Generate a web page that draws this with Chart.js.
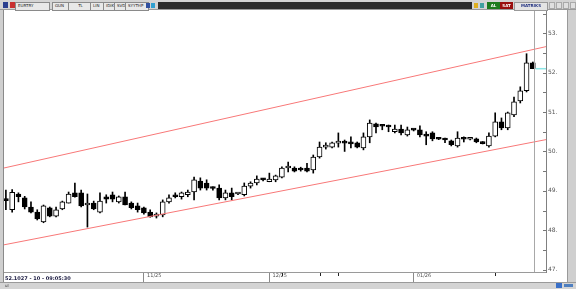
<!DOCTYPE html>
<html>
<head>
<meta charset="utf-8">
<script src="https://cdn.jsdelivr.net/npm/chart.js@4.4.1/dist/chart.umd.min.js"></script>
<style>
  html, body { margin: 0; padding: 0; width: 576px; height: 289px; overflow: hidden; background: #fff; font-family: "DejaVu Sans", sans-serif; }
  #wrap { position: relative; width: 576px; height: 289px; }
  #chart { position: absolute; left: 0; top: 0; }
  .abs { position: absolute; box-sizing: border-box; }
  .fld { position: absolute; top: 2px; height: 7px; border: 1px solid #8a8a8a; background: #e8e8e8; font-size: 4px; line-height: 5px; color: #222; padding-left: 2px; white-space: nowrap; overflow: hidden; }
  .btn { position: absolute; top: 2px; height: 7px; font-size: 4px; line-height: 7px; text-align: center; font-weight: bold; }
</style>
</head>
<body>
<div id="wrap">
  <canvas id="chart" width="576" height="289"></canvas>

  <!-- barra superior -->
  <div class="abs" style="left:0;top:0;width:576px;height:10px;background:#d4d4d4;border-bottom:1px solid #9a9a9a;"></div>
  <div class="abs" style="left:3px;top:2px;width:5px;height:6px;background:#2a3f8f;"></div>
  <div class="abs" style="left:10px;top:2px;width:5px;height:6px;background:#c83030;"></div>
  <div class="fld" style="left:15px;width:31px;">EURTRY</div>
  <div class="fld" style="left:52px;width:16px;">GUN</div>
  <div class="fld" style="left:68px;width:19px;text-align:center;">TL</div>
  <div class="fld" style="left:90px;width:13px;">LIN</div>
  <div class="fld" style="left:103px;width:11px;">IDIK</div>
  <div class="fld" style="left:114px;width:11px;">SVD</div>
  <div class="fld" style="left:125px;width:20px;">SYYTHP</div>
  <div class="abs" style="left:146px;top:3px;width:4px;height:5px;background:#3050a0;"></div>
  <div class="abs" style="left:151px;top:3px;width:4px;height:5px;background:#30a0d0;"></div>
  <div class="abs" style="left:158px;top:2px;width:314px;height:7px;background:#2c2c2c;"></div>
  <div class="abs" style="left:474px;top:3px;width:4px;height:5px;background:#e0b020;"></div>
  <div class="abs" style="left:480px;top:3px;width:4px;height:5px;background:#40a0a0;"></div>
  <div class="btn" style="left:487px;width:13px;background:#1c7a1c;color:#fff;">AL</div>
  <div class="btn" style="left:500px;width:13px;background:#9a1010;color:#fff;">SAT</div>
  <div class="btn" style="left:514px;width:32px;background:#e4e4e4;color:#203080;border:1px solid #999;line-height:5px;">MATRIKS</div>
  <div class="abs" style="left:549px;top:2px;width:6px;height:7px;background:#e0e0e0;border:1px solid #aaa;"></div>
  <div class="abs" style="left:556px;top:2px;width:6px;height:7px;background:#e0e0e0;border:1px solid #aaa;"></div>
  <div class="abs" style="left:563px;top:2px;width:6px;height:7px;background:#e0e0e0;border:1px solid #aaa;"></div>
  <div class="abs" style="left:570px;top:2px;width:6px;height:7px;background:#e0e0e0;border:1px solid #aaa;"></div>

  <!-- marcos -->
  <div class="abs" style="left:0;top:10px;width:4px;height:279px;background:#cfcfcf;border-right:1px solid #8a8a8a;"></div>
  <div class="abs" style="left:567px;top:10px;width:9px;height:279px;background:#cfcfcf;border-left:1px solid #9a9a9a;"></div>
  <div class="abs" style="left:0;top:282px;width:576px;height:7px;background:#d4d4d4;border-top:1px solid #9a9a9a;"></div>
  <div class="abs" style="left:5px;top:283px;font-size:4px;line-height:5px;color:#333;">ul</div>
  <div class="abs" style="left:556px;top:283px;width:6px;height:5px;background:#3a70c8;"></div>
  <div class="abs" style="left:564px;top:284px;width:9px;height:3px;background:#5080c0;"></div>

  <!-- estado -->
  <div class="abs" style="left:5px;top:275px;font-size:5px;line-height:6px;font-weight:bold;color:#1a1a40;">52.1027 - 10 - 09:05:30</div>
</div>

<script>
// velas diarias EURTRY (apertura, maximo, minimo, cierre)
const opens = [
  48.79, 48.52, 48.92, 48.82, 48.59, 48.46, 48.21, 48.57, 48.36, 48.54,
  48.69, 48.95, 48.95, 48.64, 48.69, 48.46, 48.85, 48.90, 48.72, 48.85,
  48.69, 48.62, 48.57, 48.46, 48.36, 48.39, 48.72, 48.90, 48.85, 48.90,
  48.97, 49.25, 49.20, 49.08, 49.07, 48.82, 48.95, 48.92, 48.90, 49.12,
  49.20, 49.30, 49.23, 49.28, 49.35, 49.58, 49.58, 49.58, 49.58, 49.53,
  49.86, 50.11, 50.11, 50.21, 50.22, 50.20, 50.22, 50.09, 50.37, 50.70,
  50.65, 50.63, 50.50, 50.57, 50.42, 50.55, 50.55, 50.40, 50.47, 50.32,
  50.30, 50.27, 50.14, 50.33, 50.31, 50.32, 50.24, 50.14, 50.39, 50.75,
  50.60, 50.93, 51.28, 51.54, 52.25
];
const highs = [
  49.02, 49.03, 48.95, 48.86, 48.72, 48.52, 48.64, 48.59, 48.59, 48.74,
  48.97, 49.20, 49.02, 48.92, 48.74, 48.95, 48.90, 48.97, 48.87, 48.97,
  48.72, 48.69, 48.59, 48.52, 48.44, 48.77, 48.90, 48.95, 48.97, 49.02,
  49.35, 49.33, 49.28, 49.10, 49.15, 49.02, 49.07, 48.95, 49.20, 49.23,
  49.38, 49.32, 49.45, 49.40, 49.61, 49.73, 49.61, 49.60, 49.70, 49.91,
  50.24, 50.22, 50.24, 50.47, 50.29, 50.37, 50.24, 50.47, 50.80, 50.72,
  50.67, 50.67, 50.67, 50.67, 50.62, 50.57, 50.65, 50.50, 50.50, 50.33,
  50.34, 50.29, 50.50, 50.37, 50.34, 50.34, 50.25, 50.47, 50.98, 50.85,
  51.00, 51.38, 51.64, 52.48, 52.27
];
const lows = [
  48.52, 48.46, 48.72, 48.54, 48.44, 48.26, 48.19, 48.34, 48.34, 48.52,
  48.69, 48.84, 48.59, 48.08, 48.52, 48.44, 48.69, 48.72, 48.69, 48.64,
  48.54, 48.46, 48.41, 48.33, 48.31, 48.34, 48.69, 48.82, 48.79, 48.85,
  48.77, 49.02, 49.02, 49.02, 48.77, 48.77, 48.77, 48.90, 48.87, 49.07,
  49.15, 49.25, 49.23, 49.23, 49.33, 49.48, 49.48, 49.50, 49.48, 49.45,
  49.83, 50.06, 50.09, 50.11, 50.00, 50.09, 50.09, 50.04, 50.22, 50.47,
  50.55, 50.50, 50.47, 50.42, 50.39, 50.52, 50.37, 50.17, 50.27, 50.30,
  50.22, 50.14, 50.11, 50.24, 50.29, 50.22, 50.19, 50.11, 50.37, 50.55,
  50.55, 50.88, 51.23, 51.51, 52.10
];
const closes = [
  48.75, 48.96, 48.85, 48.59, 48.46, 48.29, 48.62, 48.36, 48.52, 48.72,
  48.92, 48.85, 48.62, 48.69, 48.54, 48.74, 48.79, 48.79, 48.85, 48.64,
  48.57, 48.52, 48.44, 48.34, 48.41, 48.72, 48.82, 48.85, 48.95, 48.97,
  49.28, 49.07, 49.07, 49.06, 48.82, 48.95, 48.85, 48.93, 49.12, 49.20,
  49.30, 49.28, 49.30, 49.38, 49.58, 49.59, 49.50, 49.53, 49.50, 49.86,
  50.11, 50.12, 50.22, 50.22, 50.21, 50.19, 50.11, 50.37, 50.72, 50.62,
  50.64, 50.62, 50.57, 50.47, 50.55, 50.54, 50.42, 50.39, 50.32, 50.31,
  50.29, 50.17, 50.34, 50.31, 50.32, 50.24, 50.20, 50.39, 50.75, 50.60,
  50.98, 51.26, 51.54, 52.25, 52.10
];

// canal de tendencia (extremos en indice de vela / precio)
const channelX = [-0.3, 86.1];
const upperChannel = [49.58, 52.66];
const lowerChannel = [47.63, 50.30];

// ejes
const yTickValues = [47, 48, 49, 50, 51, 52, 53];
const yTickLabels = ["47.", "48.", "49.", "50.", "51.", "52.", "53."];
const yMinorTicks = [47.5, 48.5, 49.5, 50.5, 51.5, 52.5, 53.5];
const dateTicks = [22, 42, 65];
const dateTickLabels = ["11/25", "12/25", "01/26"];
const eventIdx = [44, 50, 53, 78];

const lastIdx = closes.length - 1;

const overlayPlugin = {
  id: "overlay",
  afterDraw(chart) {
    const { ctx, chartArea, scales } = chart;
    const x = scales.x, y = scales.y;
    ctx.save();
    // marcas del eje de precios (hacia dentro)
    ctx.strokeStyle = "#777";
    ctx.lineWidth = 1;
    yTickValues.concat(yMinorTicks).forEach((v) => {
      const py = Math.round(y.getPixelForValue(v)) + 0.5;
      if (py < chartArea.top || py > chartArea.bottom) return;
      ctx.beginPath();
      ctx.moveTo(chartArea.right - 3, py);
      ctx.lineTo(chartArea.right, py);
      ctx.stroke();
    });
    // linea de la ultima vela
    const lx = Math.round(x.getPixelForValue(lastIdx)) + 1.5;
    ctx.strokeStyle = "#a8a8a8";
    ctx.beginPath();
    ctx.moveTo(lx, chartArea.top);
    ctx.lineTo(lx, chartArea.bottom);
    ctx.stroke();
    // ultimo precio
    const py = y.getPixelForValue(closes[lastIdx]);
    ctx.strokeStyle = "#8ce6e6";
    ctx.lineWidth = 1.5;
    ctx.beginPath();
    ctx.moveTo(lx + 1, py);
    ctx.lineTo(chartArea.right, py);
    ctx.stroke();
    // eventos
    ctx.fillStyle = "#222";
    eventIdx.forEach((i) => {
      const ex = Math.round(x.getPixelForValue(i));
      ctx.fillRect(ex, chartArea.bottom + 1, 1, 3);
    });
    ctx.restore();
  },
};

const ctx = document.getElementById("chart").getContext("2d");
new Chart(ctx, {
  type: "bar",
  data: {
    datasets: [
      {
        type: "line",
        data: channelX.map((v, i) => ({ x: v, y: upperChannel[i] })),
        borderColor: "#f87878",
        borderWidth: 1,
        pointRadius: 0,
        order: 0,
      },
      {
        type: "line",
        data: channelX.map((v, i) => ({ x: v, y: lowerChannel[i] })),
        borderColor: "#f87878",
        borderWidth: 1,
        pointRadius: 0,
        order: 0,
      },
      {
        // cuerpos
        data: opens.map((o, i) => ({ x: i, y: [o, closes[i]] })),
        backgroundColor: opens.map((o, i) => (closes[i] >= o ? "#ffffff" : "#000000")),
        borderColor: "#000000",
        borderWidth: 1,
        borderSkipped: false,
        barThickness: 5,
        minBarLength: 2,
        grouped: false,
        order: 1,
      },
      {
        // mechas
        data: lows.map((l, i) => ({ x: i, y: [l, highs[i]] })),
        backgroundColor: "#000000",
        borderWidth: 0,
        barThickness: 1,
        grouped: false,
        order: 2,
      },
    ],
  },
  options: {
    responsive: false,
    animation: false,
    layout: { padding: { left: 4, top: 10, right: 0, bottom: 0 } },
    plugins: { legend: { display: false }, tooltip: { enabled: false } },
    scales: {
      x: {
        type: "linear",
        min: -0.3,
        max: 86.1,
        offset: false,
        afterFit: (s) => { s.height = 17; },
        afterBuildTicks: (axis) => { axis.ticks = dateTicks.map((v) => ({ value: v })); },
        grid: { offset: false, drawOnChartArea: false, drawTicks: true, tickLength: 10, tickColor: "#8a8a8a" },
        border: { color: "#9a9a9a" },
        ticks: {
          align: "start",
          padding: -9,
          maxRotation: 0,
          autoSkip: false,
          color: "#555",
          font: { family: "DejaVu Sans", size: 5 },
          callback: (v) => "  " + dateTickLabels[dateTicks.indexOf(v)],
        },
      },
      y: {
        position: "right",
        min: 46.94,
        max: 53.59,
        afterFit: (s) => { s.width = 30; },
        afterBuildTicks: (axis) => { axis.ticks = yTickValues.map((v) => ({ value: v })); },
        grid: { drawOnChartArea: false, drawTicks: false },
        border: { color: "#808080" },
        ticks: {
          padding: 2,
          color: "#555",
          font: { family: "DejaVu Sans", size: 6 },
          callback: (v) => yTickLabels[yTickValues.indexOf(v)],
        },
      },
    },
  },
  plugins: [overlayPlugin],
});
</script>
</body>
</html>
